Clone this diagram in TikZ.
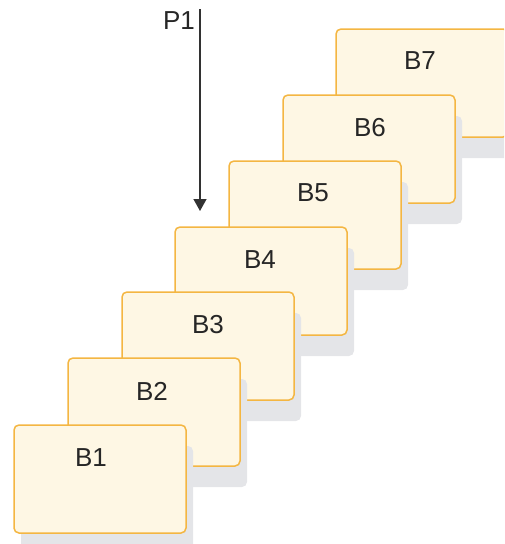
\documentclass[tikz,border=0pt]{standalone}
\usepackage{fontspec}
\setmainfont{Liberation Sans}
\usetikzlibrary{arrows.meta,shadows}
\definecolor{boxfill}{RGB}{254,247,228}
\definecolor{boxline}{RGB}{244,182,66}
\definecolor{shadowgray}{RGB}{228,229,232}
\definecolor{arrowgray}{RGB}{50,50,50}
\tikzset{
  blockbox/.style={draw=boxline, fill=boxfill, line width=1.5pt, rounded corners=5pt,
    minimum width=172pt, minimum height=108pt, inner sep=0pt,
    drop shadow={shadow xshift=7pt, shadow yshift=-21pt, fill=shadowgray, opacity=1}},
  blocklabel/.style={font=\fontsize{26}{26}\selectfont, text=black!85, inner sep=0pt},
}
\begin{document}
\begin{tikzpicture}[x=1pt,y=-1pt]
\useasboundingbox (0,0) rectangle (504,544);
\clip (0,0) rectangle (504,544);
\node[blockbox] (b7) at (422,83) {};
\node[blocklabel] (l7) at (420,61) {B7};
\node[blockbox] (b6) at (369,149) {};
\node[blocklabel] (l6) at (370,128) {B6};
\node[blockbox] (b5) at (315,215) {};
\node[blocklabel] (l5) at (313,193) {B5};
\node[blockbox] (b4) at (261,281) {};
\node[blocklabel] (l4) at (260,260) {B4};
\node[blockbox] (b3) at (208,346) {};
\node[blocklabel] (l3) at (208,325) {B3};
\node[blockbox] (b2) at (154,412) {};
\node[blocklabel] (l2) at (152,391) {B2};
\node[blockbox] (b1) at (100,479) {};
\node[blocklabel] (l1) at (91,458) {B1};
\coordinate (ptop) at (200,9);
\coordinate (ptip) at (200,211);
\draw[arrowgray, line width=1.3pt, -{Triangle[length=12pt,width=13pt]}] (ptop) -- (ptip);
\node[blocklabel] (p1) at (179,21) {P1};
\end{tikzpicture}
\end{document}
